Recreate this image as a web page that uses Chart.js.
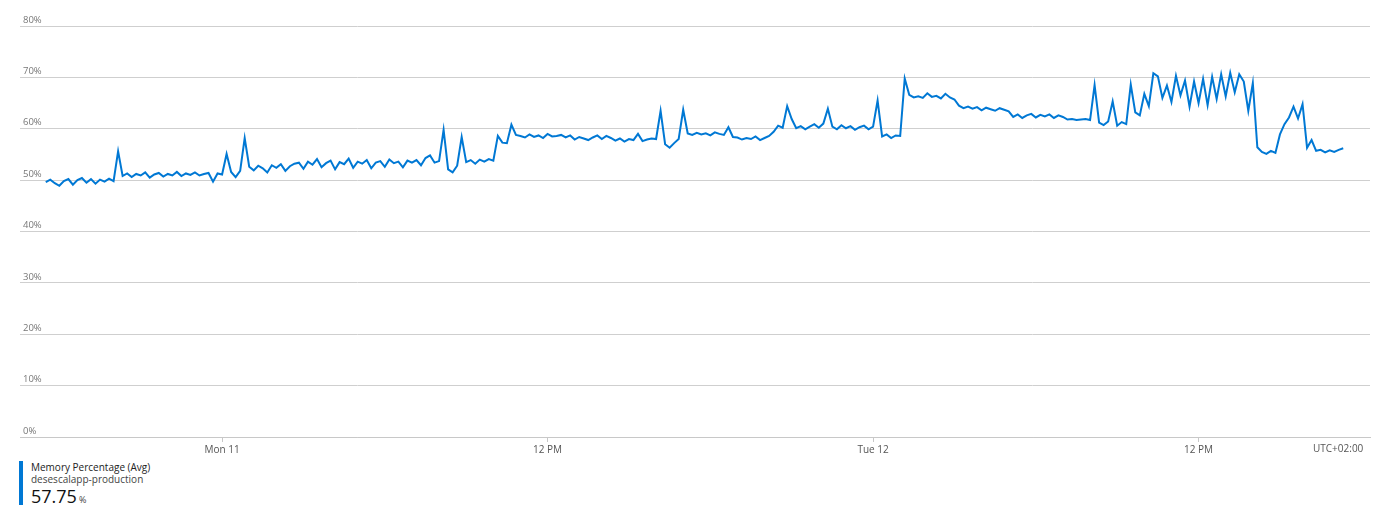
<!DOCTYPE html>
<html>
<head>
<meta charset="utf-8">
<script src="https://cdn.jsdelivr.net/npm/chart.js@4.4.0/dist/chart.umd.min.js"></script>
<style>
  html, body { margin: 0; padding: 0; background: #fff; font-family: "Open Sans", "Noto Sans", sans-serif; }
  #wrap { position: relative; width: 1379px; height: 517px; }
  #box { position: absolute; left: 0; top: 0; width: 1379px; height: 458px; }
  #tz { position: absolute; left: 1313px; top: 441px; font-size: 10px; color: #555; }
  #legend { position: absolute; left: 19px; top: 461px; height: 44px; border-left: 4px solid #0078d4; padding-left: 8px; }
  #legend .t { font-size: 10px; color: #222; line-height: 12px; margin-top: 0px; }
  #legend .s { font-size: 10px; color: #444; line-height: 12px; }
  #legend .v { font-size: 18px; color: #111; line-height: 20px; margin-top: 1px; }
  #legend .v span { font-size: 9px; color: #444; margin-left: 2px; }
</style>
</head>
<body>
<div id="wrap">
  <div id="box"><canvas id="memChart"></canvas></div>
  <div id="tz">UTC+02:00</div>
  <div id="legend">
    <div class="t">Memory Percentage (Avg)</div>
    <div class="s">desescalapp-production</div>
    <div class="v">57.75<span>%</span></div>
  </div>
</div>
<script>
// hours relative to Mon 11 00:00 (UTC+02:00), one sample every 10 minutes
const startHour = -6.5;
const stepHours = 10 / 60;

const tickHours = [0, 12, 24, 36];
const tickLabels = ['Mon 11', '12 PM', 'Tue 12', '12 PM'];

const yTicks = [0, 10, 20, 30, 40, 50, 60, 70, 80];

// memory percentage (avg)
const memoryPct = [
  49.6, 50.1, 49.4, 48.9, 49.8, 50.2, 49.1, 50.0, 50.4, 49.5, 50.2, 49.3, 50.1, 49.7, 50.3, 49.8,
  55.6,
  50.8, 51.3, 50.6, 51.2, 50.9, 51.5, 50.5, 51.1, 51.4, 50.7, 51.2, 50.9, 51.6, 50.8, 51.3, 51.0,
  51.5, 50.9, 51.2, 51.4, 49.7, 51.3, 51.1,
  55.1,
  51.6, 50.6, 51.8,
  58.2,
  52.6, 51.9, 52.8, 52.3, 51.5, 52.9, 52.4, 53.1, 51.8, 52.7, 53.2,
  53.4, 52.2, 53.6, 53.0, 54.1, 52.5, 53.3, 53.8, 52.1, 53.5, 53.1, 54.2, 52.4, 53.6, 53.2,
  53.9, 52.3, 53.4, 53.7, 52.6, 54.0, 53.3, 53.6, 52.5, 53.8, 53.4, 53.9, 52.9, 54.3,
  54.8, 53.4, 53.7,
  59.8,
  52.1, 51.5, 52.8,
  58.4,
  53.5, 53.9, 53.2, 54.0, 53.6, 54.1, 53.8,
  58.6, 57.3, 57.2, 60.8, 58.8,
  58.6, 58.3, 58.9, 58.4, 58.7, 58.2, 59.0, 58.5, 58.6, 58.8, 58.3, 58.7, 57.9, 58.4, 58.1,
  57.8, 58.3, 58.7, 58.0, 58.6, 58.2, 57.7, 58.1, 57.5, 58.0, 57.8, 59.0, 57.6, 57.9, 58.1, 58.0,
  63.5,
  57.0, 56.3, 57.2, 58.0,
  63.7,
  59.1, 58.8, 59.2, 58.9, 59.1, 58.7, 59.3, 59.0, 58.8, 60.3,
  58.4, 58.3, 57.9, 58.2, 58.0, 58.5, 57.8, 58.2, 58.6, 59.4, 60.6,
  60.2,
  64.4,
  61.9, 60.1, 60.5, 59.9, 60.4, 60.9, 60.2, 61.0,
  63.9,
  60.4, 59.9, 60.7, 60.1, 60.5, 59.8, 60.3, 60.6, 59.9, 60.4,
  65.5,
  58.5, 58.9, 58.2, 58.7, 58.6,
  69.8,
  66.6, 66.1, 66.3, 66.0, 66.9, 66.2, 66.4, 65.9, 66.8, 66.1, 65.7,
  64.5, 64.0, 64.3, 63.9, 64.2, 63.6, 64.1, 63.8, 63.5, 64.0, 63.7, 63.4,
  62.3, 62.8, 62.1, 62.6, 62.9, 62.2, 62.7, 62.4, 62.8, 62.1, 62.6, 62.3,
  61.8, 61.9, 61.7, 61.8, 61.9, 61.7,
  68.5,
  61.2, 60.7, 61.4,
  65.3,
  60.6, 61.3, 60.9,
  68.6,
  63.2, 62.6,
  66.8, 64.4, 70.8, 70.2, 66.0, 68.4, 65.2, 70.3, 66.5, 69.4, 64.3, 69.2, 65.0, 69.7, 64.6,
  70.1, 65.8, 70.6, 66.3, 70.9, 67.1, 70.6, 69.2, 63.5, 68.9, 56.4,
  55.5, 55.1, 55.7, 55.3,
  58.9, 60.9, 62.2, 64.3, 62.0, 64.8, 56.3, 57.8, 55.7,
  55.9, 55.4, 55.8, 55.5, 55.9, 56.2
];

const points = memoryPct.map((v, i) => ({ x: startHour + i * stepHours, y: v }));

const ctx = document.getElementById('memChart');

const chart = new Chart(ctx, {
  type: 'line',
  data: {
    datasets: [{
      label: 'Memory Percentage (Avg)',
      data: points,
      borderColor: '#0078d4',
      borderWidth: 2,
      pointRadius: 0,
      tension: 0,
      fill: false
    }]
  },
  options: {
    responsive: true,
    maintainAspectRatio: false,
    animation: false,
    layout: {
      padding: { left: 20, right: 9, top: 26, bottom: 0 }
    },
    plugins: {
      legend: { display: false },
      tooltip: { enabled: false }
    },
    scales: {
      x: {
        type: 'linear',
        min: -7.45,
        max: 42.32,
        afterBuildTicks: (scale) => {
          scale.ticks = tickHours.map(h => ({ value: h }));
        },
        ticks: {
          autoSkip: false,
          maxRotation: 0,
          padding: 2,
          color: '#555',
          font: { family: '"Open Sans", sans-serif', size: 10 },
          callback: (v) => {
            const k = tickHours.indexOf(v);
            return k >= 0 ? tickLabels[k] : '';
          }
        },
        grid: {
          drawOnChartArea: false,
          drawTicks: true,
          tickLength: 5,
          color: '#c8c8c8'
        },
        border: { display: true, color: '#c8c8c8' }
      },
      y: {
        min: 0,
        max: 80,
        afterBuildTicks: (scale) => {
          scale.ticks = yTicks.map(v => ({ value: v }));
        },
        afterFit: (scale) => { scale.width = 0; },
        ticks: {
          mirror: true,
          padding: 3,
          labelOffset: -6,
          color: '#777',
          font: { family: '"Open Sans", sans-serif', size: 9.5 },
          callback: (v) => v + '%'
        },
        grid: {
          drawTicks: false,
          color: '#cfcfcf'
        },
        border: { display: false }
      }
    }
  }
});
</script>
</body>
</html>
